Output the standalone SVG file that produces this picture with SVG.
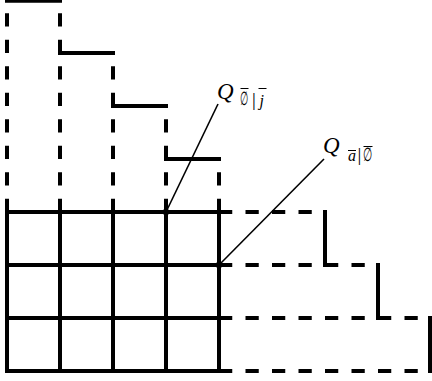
<svg xmlns="http://www.w3.org/2000/svg" width="432" height="381" viewBox="0 0 432 381">
<style>
.s{stroke:#000;stroke-width:4;fill:none;stroke-linecap:butt}
.d{stroke:#000;stroke-width:4;fill:none;stroke-dasharray:13.25 13.25}
.t{stroke:#000;stroke-width:1.6;fill:none}
.b{stroke:#000;stroke-width:1;fill:none}
.q{font-family:"Liberation Serif",serif;font-style:italic;font-size:23px;fill:#000}
.sub{font-family:"Liberation Serif","DejaVu Serif",serif;font-size:16px;fill:#000}
.bar{font-family:"Liberation Serif",serif;font-size:19px;fill:#000}
.es{font-family:"DejaVu Serif",serif;font-size:19px;fill:#000}
.it{font-style:italic}
</style>
<g id="grid">
<path class="s" d="M5 212H221M5 265H221M5 318H221M5 371H221"/>
<path class="s" d="M7 210V373M60 210V373M113 210V373M166 210V373M219 210V373"/>
</g>
<g id="top-staircase">
<path class="s" d="M5 0.8H62M58 53H115M111 106H168M164 159H221"/>
<path class="d" d="M7 212V0.8M60 212V0.8M113 212V53M166 212V106M219 212V159"/>
</g>
<g id="right-staircase">
<path class="d" d="M219 212H325M219 265H378M219 318H430.5M219 371H430.5"/>
<path class="s" d="M325 210V267M378 263V320M430 316V373"/>
</g>
<g id="connectors">
<line class="t" x1="166" y1="212" x2="218" y2="104"/>
<line class="t" x1="219" y1="265" x2="324" y2="159"/>
<circle cx="166" cy="212" r="3.2" fill="#000"/>
<circle cx="219" cy="265" r="3.2" fill="#000"/>
</g>
<g id="label-q1">
<text class="q" x="217" y="99">Q</text>
<text class="es" transform="translate(240 105) scale(0.5 1)">∅</text>
<text class="bar" x="252" y="106">|</text>
<text class="sub it" x="259.5" y="106">j</text>
<line class="b" x1="240.5" y1="88.5" x2="248.5" y2="88.5"/>
<line class="b" x1="258.5" y1="88.5" x2="266.5" y2="88.5"/>
</g>
<g id="label-q2">
<text class="q" x="323" y="153">Q</text>
<text class="sub it" x="348" y="161">a</text>
<text class="bar" x="357.5" y="161">|</text>
<text class="es" transform="translate(363 161) scale(0.56 1)">∅</text>
<line class="b" x1="348" y1="150.5" x2="356" y2="150.5"/>
<line class="b" x1="363.5" y1="146.5" x2="372.5" y2="146.5"/>
</g>
</svg>
